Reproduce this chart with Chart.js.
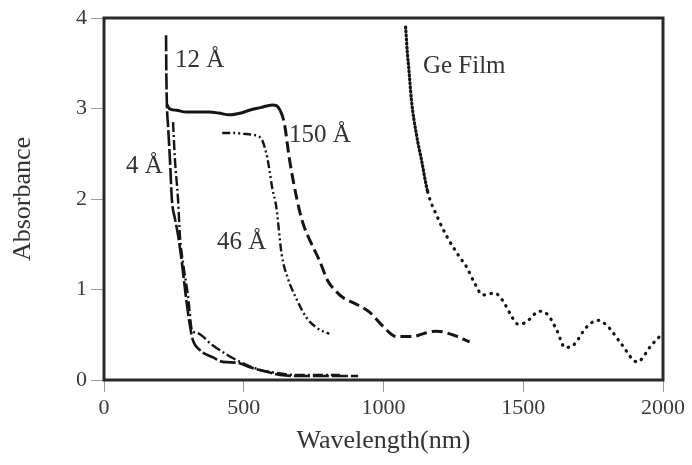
<!DOCTYPE html>
<html>
<head>
<meta charset="utf-8">
<script src="https://cdn.jsdelivr.net/npm/chart.js@4.4.1/dist/chart.umd.min.js"></script>
<style>
  html, body { margin: 0; padding: 0; background: #ffffff; }
  #wrap { width: 692px; height: 465px; }
</style>
</head>
<body>
<div id="wrap"><canvas id="c" width="692" height="465"></canvas></div>
<script>
// ---- data ----
const xTicks = [0, 500, 1000, 1500, 2000];
const yTicks = [0, 1, 2, 3, 4];

const a12X = [222, 223, 225, 229, 236, 243, 254, 265, 279, 293, 308, 318, 343, 390, 426, 476, 522, 583, 630, 701, 800, 909];
const a12Y = [3.81, 3.40, 3.04, 2.82, 2.43, 1.99, 1.78, 1.60, 1.29, 0.92, 0.59, 0.44, 0.33, 0.25, 0.20, 0.19, 0.14, 0.09, 0.055, 0.044, 0.044, 0.044];

const a4X = [247, 254, 265, 272, 283, 301, 315, 333, 386, 440, 487, 540, 612, 701, 844];
const a4Y = [2.85, 2.43, 1.99, 1.58, 1.29, 0.92, 0.55, 0.52, 0.39, 0.28, 0.20, 0.13, 0.08, 0.055, 0.055];

const a150X = [226, 233, 260, 294, 340, 376, 410, 448, 490, 520, 560, 602, 618, 630, 645, 663, 690, 710, 740, 771, 800, 830, 860, 895, 950, 996, 1047, 1104, 1150, 1190, 1247, 1308];
const a150Y = [3.04, 3.00, 2.98, 2.96, 2.96, 2.96, 2.95, 2.93, 2.95, 2.98, 3.01, 3.04, 3.03, 2.98, 2.84, 2.45, 2.00, 1.75, 1.52, 1.32, 1.10, 0.98, 0.90, 0.85, 0.75, 0.60, 0.48, 0.48, 0.52, 0.54, 0.50, 0.42];

const a46X = [423, 460, 500, 530, 555, 566, 576, 584, 593, 602, 616, 636, 656, 688, 724, 760, 782, 806];
const a46Y = [2.73, 2.73, 2.72, 2.71, 2.69, 2.65, 2.56, 2.46, 2.30, 2.12, 1.92, 1.38, 1.14, 0.90, 0.69, 0.58, 0.54, 0.51];

const geX = [1079, 1086, 1090, 1100, 1118, 1136, 1158, 1193, 1226, 1272, 1297, 1326, 1355, 1398, 1426, 1452, 1480, 1505, 1559, 1588, 1620, 1649, 1677, 1728, 1767, 1803, 1853, 1907, 1960, 2000];
const geY = [3.90, 3.59, 3.46, 3.09, 2.71, 2.43, 2.08, 1.80, 1.59, 1.36, 1.25, 1.07, 0.94, 0.96, 0.88, 0.74, 0.62, 0.63, 0.76, 0.72, 0.55, 0.36, 0.38, 0.59, 0.66, 0.59, 0.39, 0.20, 0.39, 0.52];

const labelTexts = ["12 Å", "150 Å", "4 Å", "46 Å", "Ge Film"];
const labelX = [254, 662, 79, 404, 1141];
const labelY = [3.46, 2.63, 2.29, 1.45, 3.39];

const xTitle = "Wavelength(nm)";
const yTitle = "Absorbance";

// ---- build ----
const pts = (xs, ys) => xs.map((x, i) => ({ x: x, y: ys[i] }));
const serif = "'Liberation Serif', 'Times New Roman', serif";

const framePlugin = {
  id: 'frame',
  afterDatasetsDraw(chart) {
    const a = chart.chartArea, ctx = chart.ctx;
    ctx.save();
    ctx.strokeStyle = '#2a2a2a';
    ctx.lineWidth = 3;
    ctx.strokeRect(a.left, a.top, a.right - a.left, a.bottom - a.top);
    ctx.restore();
  }
};

const labelPlugin = {
  id: 'curveLabels',
  afterDatasetsDraw(chart) {
    const ctx = chart.ctx, xs = chart.scales.x, ys = chart.scales.y;
    ctx.save();
    ctx.fillStyle = '#333333';
    ctx.font = "25px " + serif;
    ctx.textAlign = 'left';
    ctx.textBaseline = 'alphabetic';
    labelTexts.forEach((t, i) => {
      ctx.fillText(t, xs.getPixelForValue(labelX[i]), ys.getPixelForValue(labelY[i]));
    });
    ctx.restore();
  }
};

const base = { showLine: true, pointRadius: 0, borderColor: '#151515', fill: false, cubicInterpolationMode: 'monotone', borderCapStyle: 'butt' };

new Chart(document.getElementById('c'), {
  type: 'scatter',
  data: {
    datasets: [
      Object.assign({}, base, { label: '150 Å', data: pts(a150X, a150Y), borderWidth: 3,
        segment: { borderDash: ctx => ctx.p0.parsed.x >= 630 ? [11, 5] : undefined } }),
      Object.assign({}, base, { label: '12 Å', data: pts(a12X, a12Y), borderWidth: 2.6, borderDash: [16, 3] }),
      Object.assign({}, base, { label: '4 Å', data: pts(a4X, a4Y), borderWidth: 2.4, borderDash: [10, 3, 2, 3] }),
      Object.assign({}, base, { label: '46 Å', data: pts(a46X, a46Y), borderWidth: 2.4, borderDash: [8, 3, 2, 3, 2, 3] }),
      Object.assign({}, base, { label: 'Ge Film', data: pts(geX, geY), borderWidth: 3.2, borderCapStyle: 'round',
        segment: { borderDash: ctx => ctx.p0.parsed.y > 2.4 ? [1, 3] : [0.5, 6.5] } })
    ]
  },
  options: {
    responsive: false,
    animation: false,
    layout: { padding: { left: 0, right: 29, top: 18, bottom: 0 } },
    plugins: { legend: { display: false }, tooltip: { enabled: false } },
    scales: {
      x: {
        type: 'linear', min: 0, max: 2000,
        afterBuildTicks: s => { s.ticks = xTicks.map(v => ({ value: v })); },
        afterFit: s => { s.height = 85; },
        grid: { drawOnChartArea: false, drawTicks: true, tickLength: 12, color: '#9a9a9a', lineWidth: 1 },
        border: { display: false },
        ticks: { color: '#3a3a3a', font: { family: serif, size: 22 }, padding: 3, maxRotation: 0, callback: v => String(v) },
        title: { display: true, text: xTitle, color: '#333333', font: { family: serif, size: 26 }, padding: { top: 0, bottom: 8 } }
      },
      y: {
        type: 'linear', min: 0, max: 4,
        afterBuildTicks: s => { s.ticks = yTicks.map(v => ({ value: v })); },
        afterFit: s => { s.width = 104; },
        grid: { drawOnChartArea: false, drawTicks: true, tickLength: 13, color: '#9a9a9a', lineWidth: 1 },
        border: { display: false },
        ticks: { color: '#3a3a3a', font: { family: serif, size: 22 }, padding: 4, callback: v => String(v) },
        title: { display: true, text: yTitle, color: '#333333', font: { family: serif, size: 26 }, padding: { top: 8, bottom: 0 } }
      }
    }
  },
  plugins: [framePlugin, labelPlugin]
});
</script>
</body>
</html>
